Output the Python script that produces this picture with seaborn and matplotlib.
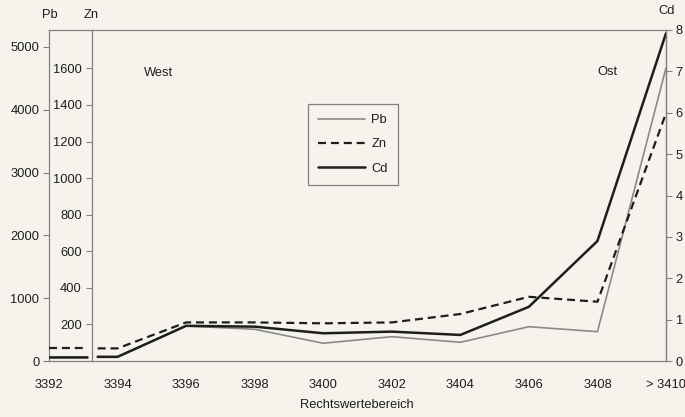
import numpy as np
import pandas as pd
import seaborn as sns
import matplotlib.pyplot as plt
from matplotlib.lines import Line2D

# Heavy-metal profile across the Rechtswert range (West -> Ost)
positions = [3392, 3394, 3396, 3398, 3400, 3402, 3404, 3406, 3408, 3410]
tick_labels = ['3392', '3394', '3396', '3398', '3400', '3402', '3404', '3406', '3408', '> 3410']
pb = [70, 70, 557, 505, 283, 387, 298, 546, 467, 4666]
zn = [69, 69, 211, 211, 206, 211, 257, 351, 324, 1355]
cd = [0.10, 0.10, 0.85, 0.83, 0.67, 0.71, 0.63, 1.31, 2.90, 7.92]

pb_ticks = [0, 1000, 2000, 3000, 4000, 5000]
zn_ticks = [200, 400, 600, 800, 1000, 1200, 1400, 1600]
cd_ticks = [0, 1, 2, 3, 4, 5, 6, 7, 8]

# where the Zn axis sits and the gap the lines leave around it
zn_axis_x = 3393.24
gap_left, gap_right = 3393.12, 3393.42

sns.set_style('white')
plt.rcParams['font.family'] = ['Liberation Sans', 'DejaVu Sans']
plt.rcParams['font.size'] = 9.3

paper = '#f5f3ec'
ink = '#1e1e1e'
frame = '#808080'

fig = plt.figure(figsize=(6.85, 4.17), dpi=100, facecolor=paper)
ax = fig.add_axes([49 / 685, 56 / 417, 617 / 685, 331 / 417])
ax.set_facecolor(paper)
ax_zn = ax.twinx()
ax_cd = ax.twinx()


def draw(axis, values, **kw):
    # short western piece, then the rest of the profile after the Zn axis
    west = pd.DataFrame({'x': [positions[0], gap_left], 'y': [values[0], values[0]]})
    rest = pd.DataFrame({'x': [gap_right] + positions[1:], 'y': [values[1]] + values[1:]})
    for part in (west, rest):
        sns.lineplot(data=part, x='x', y='y', ax=axis, estimator=None, sort=False, **kw)


draw(ax, pb, color='#8a8a8a', lw=1.2)
draw(ax_zn, zn, color=ink, lw=1.6, linestyle=(0, (3.6, 2.2)))
draw(ax_cd, cd, color=ink, lw=1.8)

xmin, xmax = positions[0], positions[-1]
for a in (ax, ax_zn, ax_cd):
    a.set_xlim(xmin, xmax)
    a.set_xlabel('')
    a.set_ylabel('')

ax.set_ylim(0, 5270)
ax_zn.set_ylim(0, 1810)
ax_cd.set_ylim(0, 8)

# Pb axis on the left
ax.set_yticks(pb_ticks)
ax.set_xticks(positions)
ax.set_xticklabels(tick_labels)
ax.tick_params(axis='y', direction='out', length=4, width=0.8, color=frame, pad=3, labelcolor=ink)
ax.tick_params(axis='x', direction='out', length=4, width=0.8, color=frame, pad=9, labelcolor=ink)
for s in ax.spines.values():
    s.set_color(frame)
    s.set_linewidth(0.9)
    s.set_visible(True)

# Zn axis inside the plot
ax_zn.spines['left'].set_position(('axes', (zn_axis_x - xmin) / (xmax - xmin)))
ax_zn.spines['left'].set_visible(True)
ax_zn.spines['left'].set_color(frame)
ax_zn.spines['left'].set_linewidth(0.9)
for side in ('right', 'top', 'bottom'):
    ax_zn.spines[side].set_visible(False)
ax_zn.yaxis.tick_left()
ax_zn.set_yticks(zn_ticks)
ax_zn.tick_params(axis='y', direction='out', length=4, width=0.8, color=frame, pad=3, labelcolor=ink)

# Cd axis on the right
for side in ('left', 'top', 'bottom'):
    ax_cd.spines[side].set_visible(False)
ax_cd.spines['right'].set_color(frame)
ax_cd.spines['right'].set_linewidth(0.9)
ax_cd.set_yticks(cd_ticks)
ax_cd.tick_params(axis='y', direction='out', length=4, width=0.8, color=frame, pad=3, labelcolor=ink)

# axis names and region labels
fig.text(50 / 685, 1 - 15 / 417, 'Pb', ha='center', va='center', color=ink)
fig.text(91 / 685, 1 - 15 / 417, 'Zn', ha='center', va='center', color=ink)
fig.text(667 / 685, 1 - 11 / 417, 'Cd', ha='center', va='center', color=ink)
fig.text(158 / 685, 1 - 73 / 417, 'West', ha='center', va='center', color=ink)
fig.text(607 / 685, 1 - 72 / 417, 'Ost', ha='center', va='center', color=ink)
fig.text(357 / 685, 1 - 405 / 417, 'Rechtswertebereich', ha='center', va='center', color=ink)

handles = [
    Line2D([], [], color='#8a8a8a', lw=1.2),
    Line2D([], [], color=ink, lw=1.6, linestyle=(0, (3.6, 2.2))),
    Line2D([], [], color=ink, lw=1.8),
]
leg = ax_cd.legend(handles, ['Pb', 'Zn', 'Cd'], loc='lower left',
                   bbox_to_anchor=(308 / 685, 1 - 185 / 417), bbox_transform=fig.transFigure,
                   frameon=True, fancybox=False, framealpha=1, facecolor=paper,
                   edgecolor=frame, handlelength=3.6, labelspacing=0.95,
                   borderpad=0.8, handletextpad=0.5, borderaxespad=0)
leg.get_frame().set_linewidth(0.9)
for t in leg.get_texts():
    t.set_color(ink)

fig.savefig('out.png', dpi=100, facecolor=paper)
